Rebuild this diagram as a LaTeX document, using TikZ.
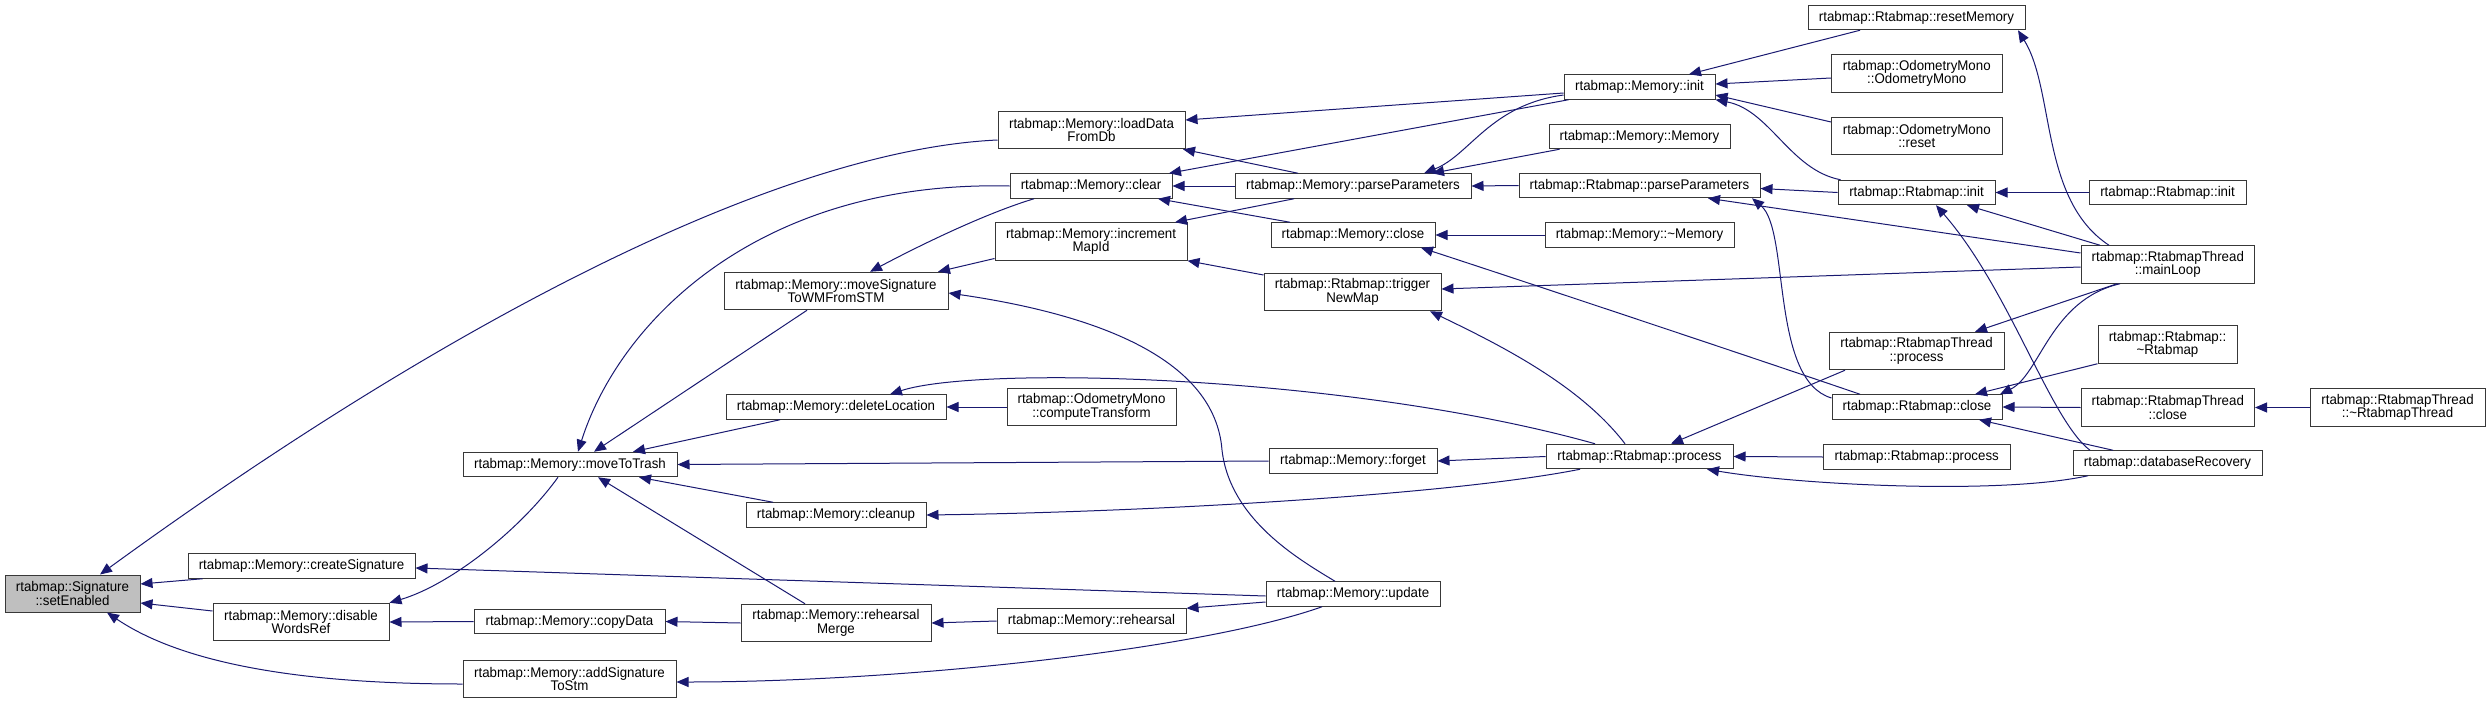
\documentclass[tikz,border=0pt]{standalone}
\usepackage{fontspec}
\setmainfont[FakeStretch=0.95]{Liberation Sans}
\usetikzlibrary{arrows.meta}
\definecolor{edgeblue}{HTML}{191970}
\definecolor{boxline}{HTML}{383838}
\definecolor{rootfill}{HTML}{BFBFBF}
\begin{document}
\begin{tikzpicture}[x=1pt,y=-1pt,
  cgbox/.style={draw=boxline, line width=1pt, fill=white, inner sep=0pt, align=center,
    font=\fontsize{14}{13.6}\selectfont, text=black},
  rootbox/.style={cgbox, fill=rootfill},
  callarrow/.style={draw=edgeblue, line width=1pt, {Triangle[length=12pt,width=10pt]}-}]
\useasboundingbox (0,0) rectangle (2490,704);
% rank 0
\node[rootbox, minimum width=135pt, minimum height=37pt] (se) at (72.5,593.5) {rtabmap::Signature\\::setEnabled};
% rank 1
\node[cgbox, minimum width=227pt, minimum height=24.5pt] (cs) at (301.5,566) {rtabmap::Memory::createSignature};
\node[cgbox, minimum width=176pt, minimum height=37.5pt] (dw) at (301,622) {rtabmap::Memory::disable\\WordsRef};
% rank 2
\node[cgbox, minimum width=214pt, minimum height=24.5pt] (mt) at (570,464.5) {rtabmap::Memory::moveToTrash};
\node[cgbox, minimum width=191pt, minimum height=24.5pt] (cd) at (569.5,621.5) {rtabmap::Memory::copyData};
\node[cgbox, minimum width=213pt, minimum height=37.5pt] (as) at (569.5,679) {rtabmap::Memory::addSignature\\ToStm};
% rank 3
\node[cgbox, minimum width=224pt, minimum height=37.5pt] (ms) at (836,291) {rtabmap::Memory::moveSignature\\ToWMFromSTM};
\node[cgbox, minimum width=220pt, minimum height=24.5pt] (dl) at (836,407) {rtabmap::Memory::deleteLocation};
\node[cgbox, minimum width=180pt, minimum height=24.5pt] (cu) at (836,515) {rtabmap::Memory::cleanup};
\node[cgbox, minimum width=190pt, minimum height=37.5pt] (rm) at (836,623) {rtabmap::Memory::rehearsal\\Merge};
% rank 4
\node[cgbox, minimum width=187pt, minimum height=37.5pt] (ld) at (1091.5,130) {rtabmap::Memory::loadData\\FromDb};
\node[cgbox, minimum width=162pt, minimum height=24.5pt] (cl) at (1091,186) {rtabmap::Memory::clear};
\node[cgbox, minimum width=192pt, minimum height=37.5pt] (im) at (1091,241.5) {rtabmap::Memory::increment\\MapId};
\node[cgbox, minimum width=169pt, minimum height=37.5pt] (ct) at (1091.5,407) {rtabmap::OdometryMono\\::computeTransform};
\node[cgbox, minimum width=189pt, minimum height=24.5pt] (rh) at (1091.5,621) {rtabmap::Memory::rehearsal};
% rank 5
\node[cgbox, minimum width=236pt, minimum height=24.5pt] (pp) at (1353,186) {rtabmap::Memory::parseParameters};
\node[cgbox, minimum width=164pt, minimum height=24.5pt] (mc) at (1353,235) {rtabmap::Memory::close};
\node[cgbox, minimum width=177pt, minimum height=37.5pt] (tn) at (1352.5,292) {rtabmap::Rtabmap::trigger\\NewMap};
\node[cgbox, minimum width=168pt, minimum height=24.5pt] (fg) at (1353,461) {rtabmap::Memory::forget};
\node[cgbox, minimum width=174pt, minimum height=24.5pt] (up) at (1353,594) {rtabmap::Memory::update};
% rank 6
\node[cgbox, minimum width=151pt, minimum height=24.5pt] (mi) at (1639.5,87) {rtabmap::Memory::init};
\node[cgbox, minimum width=181pt, minimum height=24.5pt] (mm) at (1639.5,136.5) {rtabmap::Memory::Memory};
\node[cgbox, minimum width=241pt, minimum height=24.5pt] (rp) at (1639.5,185.5) {rtabmap::Rtabmap::parseParameters};
\node[cgbox, minimum width=189pt, minimum height=24.5pt] (md) at (1639.5,235) {rtabmap::Memory::\textasciitilde Memory};
\node[cgbox, minimum width=187pt, minimum height=24.5pt] (rpr) at (1639.5,456.5) {rtabmap::Rtabmap::process};
% rank 7
\node[cgbox, minimum width=217pt, minimum height=24.5pt] (rs) at (1916.5,17.5) {rtabmap::Rtabmap::resetMemory};
\node[cgbox, minimum width=170.5pt, minimum height=37.5pt] (om) at (1916.75,73.5) {rtabmap::OdometryMono\\::OdometryMono};
\node[cgbox, minimum width=170.5pt, minimum height=37.5pt] (omr) at (1916.75,136) {rtabmap::OdometryMono\\::reset};
\node[cgbox, minimum width=157pt, minimum height=24.5pt] (ri) at (1916.5,192.5) {rtabmap::Rtabmap::init};
\node[cgbox, minimum width=175pt, minimum height=37.5pt] (tp) at (1916.5,351) {rtabmap::RtabmapThread\\::process};
\node[cgbox, minimum width=170pt, minimum height=24.5pt] (rc) at (1917,407) {rtabmap::Rtabmap::close};
\node[cgbox, minimum width=186.5pt, minimum height=24.5pt] (rq) at (1916.75,457) {rtabmap::Rtabmap::process};
% rank 8
\node[cgbox, minimum width=157pt, minimum height=24.5pt] (ri2) at (2167.5,192.5) {rtabmap::Rtabmap::init};
\node[cgbox, minimum width=173.5pt, minimum height=37.5pt] (ml) at (2167.75,264.5) {rtabmap::RtabmapThread\\::mainLoop};
\node[cgbox, minimum width=139pt, minimum height=37.5pt] (dr) at (2167.5,344.5) {rtabmap::Rtabmap::\\\textasciitilde Rtabmap};
\node[cgbox, minimum width=173.5pt, minimum height=37.5pt] (tc) at (2167.75,407.5) {rtabmap::RtabmapThread\\::close};
\node[cgbox, minimum width=189pt, minimum height=24.5pt] (db) at (2167.5,463) {rtabmap::databaseRecovery};
% rank 9
\node[cgbox, minimum width=175pt, minimum height=37.5pt] (dt) at (2397.5,407.5) {rtabmap::RtabmapThread\\::\textasciitilde RtabmapThread};

% ---- connectors (arrow tip at the callee) ----
\draw[callarrow] ([xshift=27.5pt]se.north) .. controls (450,320) and (780,150) .. ([yshift=-10pt]ld.west);
\draw[callarrow] ([yshift=9.5pt]se.east) -- ([xshift=15pt]cs.south west);
\draw[callarrow] ([yshift=-9.5pt]se.east) -- ([yshift=11pt]dw.west);
\draw[callarrow] ([xshift=34.5pt]se.south) .. controls (170,655) and (270,684) .. ([yshift=-5pt]as.west);
\draw[callarrow] ([yshift=-2pt]cs.east) -- ([yshift=-2pt]up.west);
\draw[callarrow] (dw.north east) .. controls (450,585) and (520,530) .. ([xshift=-12pt]mt.south);
\draw[callarrow] (dw.east) -- (cd.west);
\draw[callarrow] ([xshift=8pt]mt.north) .. controls (620,320) and (760,180) .. (cl.west);
\draw[callarrow] ([xshift=24pt]mt.north) -- ([xshift=-29pt]ms.south);
\draw[callarrow] ([xshift=63pt]mt.north) -- ([xshift=-56pt]dl.south);
\draw[callarrow] (mt.east) -- (fg.west);
\draw[callarrow] ([xshift=69pt]mt.south) -- ([xshift=-63pt]cu.north);
\draw[callarrow] ([xshift=28pt]mt.south) -- ([xshift=-31pt]rm.north);
\draw[callarrow] (cd.east) -- (rm.west);
\draw[callarrow] ([yshift=-3pt]as.east) .. controls (900,682) and (1200,650) .. ([xshift=-31pt]up.south);
\draw[callarrow] ([xshift=34pt]ms.north) .. controls (930,240) and (990,212) .. ([xshift=-57pt]cl.south);
\draw[callarrow] ([xshift=102pt]ms.north) -- ([yshift=-17pt]im.west);
\draw[callarrow] ([yshift=-2pt]ms.east) .. controls (1100,315) and (1215,360) .. (1222,450)
   .. controls (1230,520) and (1300,560) .. ([xshift=-18pt]up.north);
\draw[callarrow] (dl.east) -- (ct.west);
\draw[callarrow] ([xshift=54pt]dl.north) .. controls (980,365) and (1350,375) .. ([xshift=-44.5pt]rpr.north);
\draw[callarrow] (cu.east) .. controls (1150,512) and (1450,495) .. ([xshift=-59.5pt]rpr.south);
\draw[callarrow] (rm.east) -- (rh.west);
\draw[callarrow] (rh.north east) -- ([yshift=-8pt]up.west);
\draw[callarrow] ([yshift=10pt]ld.east) -- ([yshift=-6pt]mi.west);
\draw[callarrow] ([xshift=78pt]cl.north) -- ([xshift=5pt]mi.south west);
\draw[callarrow] (cl.east) -- (pp.west);
\draw[callarrow] ([xshift=67pt]cl.south) -- ([xshift=-63pt]mc.north);
\draw[callarrow] ([xshift=84pt]im.north) -- ([xshift=-59pt]pp.south);
\draw[callarrow] (im.south east) -- ([yshift=17pt]tn.west);
\draw[callarrow] ([xshift=91.5pt]ld.south) -- ([xshift=-55pt]pp.north);
\draw[callarrow] ([xshift=71pt]pp.north) .. controls (1470,155) and (1490,105) .. ([yshift=-8pt]mi.west);
\draw[callarrow] ([xshift=79pt]pp.north) -- ([xshift=11pt]mm.south west);
\draw[callarrow] (pp.east) -- (rp.west);
\draw[callarrow] (mc.east) -- (md.west);
\draw[callarrow] ([xshift=68pt]mc.south) .. controls (1520,280) and (1760,360) .. ([xshift=-57pt]rc.north);
\draw[callarrow] ([yshift=3pt]tn.east) -- ([yshift=-2.5pt]ml.west);
\draw[callarrow] ([xshift=77.5pt]tn.south) .. controls (1500,345) and (1580,385) .. ([xshift=-14.5pt]rpr.north);
\draw[callarrow] (fg.east) -- (rpr.west);
\draw[callarrow] ([xshift=49.5pt]mi.north) -- ([xshift=-56.5pt]rs.south);
\draw[callarrow] ([yshift=3pt]mi.east) -- ([yshift=-4.5pt]om.west);
\draw[callarrow] ([yshift=-8pt]mi.east) -- ([yshift=14pt]omr.west);
\draw[callarrow] (mi.south east) .. controls (1770,110) and (1790,170) .. ([xshift=3pt]ri.north west);
\draw[callarrow] ([yshift=-3pt]rp.east) -- (ri.west);
\draw[callarrow] ([xshift=68.5pt]rp.south) -- ([yshift=11.5pt]ml.west);
\draw[callarrow] ([xshift=112.5pt]rp.south) .. controls (1790,230) and (1770,380) .. ([yshift=9pt]rc.west);
\draw[callarrow] ([xshift=31.5pt]rpr.north) -- ([xshift=-71.5pt]tp.south);
\draw[callarrow] (rpr.east) -- (rq.west);
\draw[callarrow] ([xshift=67.5pt]rpr.south) .. controls (1800,485) and (2000,495) .. ([xshift=-79.5pt]db.south);
\draw[callarrow] ([xshift=101.5pt]rs.south) .. controls (2055,90) and (2040,200) .. ([xshift=-58.75pt]ml.north);
\draw[callarrow] (ri.east) -- (ri2.west);
\draw[callarrow] ([xshift=50.5pt]ri.south) -- ([xshift=-67.75pt]ml.north);
\draw[callarrow] ([xshift=19.5pt]ri.south) .. controls (2010,290) and (2050,420) .. ([xshift=-77.5pt]db.north);
\draw[callarrow] ([xshift=58.5pt]tp.north) -- ([xshift=-50.75pt]ml.south);
\draw[callarrow] ([xshift=83pt]rc.north) .. controls (2040,375) and (2050,300) .. ([xshift=-47.75pt]ml.south);
\draw[callarrow] ([xshift=58pt]rc.north) -- (dr.south west);
\draw[callarrow] (rc.east) -- (tc.west);
\draw[callarrow] ([xshift=62pt]rc.south) -- ([xshift=-54.5pt]db.north);
\draw[callarrow] (tc.east) -- (dt.west);
\end{tikzpicture}
\end{document}
